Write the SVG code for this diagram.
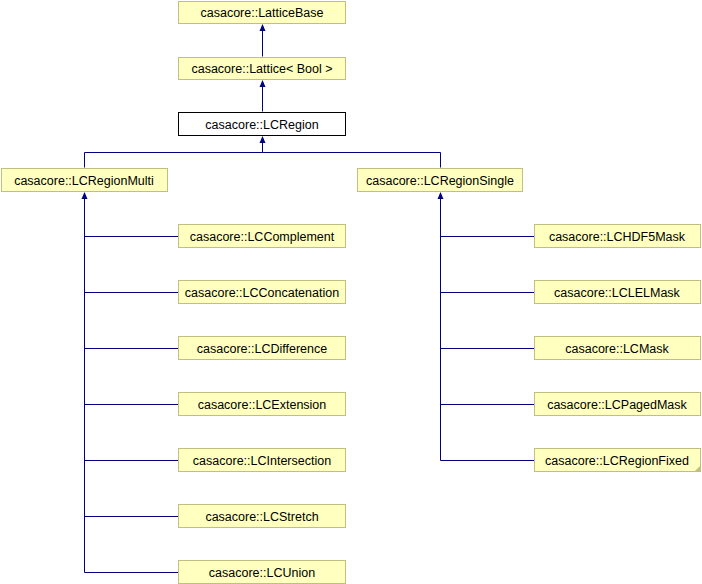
<svg xmlns="http://www.w3.org/2000/svg" width="702" height="584" viewBox="0 0 702 584">
<style>
.n rect{fill:#ffffc0;stroke:#bfbf80;stroke-width:1}
.w rect{fill:#ffffff;stroke:#000000}
text{font-family:"Liberation Sans",Arial,sans-serif;font-size:12.5px;fill:#000;text-anchor:middle}
.c path{fill:none;stroke:#000080;stroke-width:1}
.c polygon{fill:#000080;stroke:none}
</style>
<rect width="702" height="584" fill="#fff"/>
<g class="c" id="connectors">
<path d="M262.5,31V56.5"/><polygon points="262.5,24 259.5,31 265.5,31"/>
<path d="M262.5,87V111.5"/><polygon points="262.5,80 259.5,87 265.5,87"/>
<path d="M262.5,143V152.5H84.5V167.5M262.5,152.5H440.5V167.5"/><polygon points="262.5,136 259.5,143 265.5,143"/>
<path d="M84.5,199V572.5H178M84.5,236.5H178M84.5,292.5H178M84.5,348.5H178M84.5,404.5H178M84.5,460.5H178M84.5,516.5H178"/><polygon points="84.5,192 81.5,199 87.5,199"/>
<path d="M440.5,199V460.5H534M440.5,236.5H534M440.5,292.5H534M440.5,348.5H534M440.5,404.5H534"/><polygon points="440.5,192 437.5,199 443.5,199"/>
</g>
<g class="n" id="LatticeBase"><rect x="178.5" y="1.5" width="167" height="22"/><text x="262" y="17">casacore::LatticeBase</text></g>
<g class="n" id="Lattice"><rect x="178.5" y="57.5" width="167" height="22"/><text x="262" y="73">casacore::Lattice&lt; Bool &gt;</text></g>
<g class="w" id="LCRegion"><rect x="178.5" y="112.5" width="167" height="23"/><text x="262" y="129">casacore::LCRegion</text></g>
<g class="n" id="LCRegionMulti"><rect x="1.5" y="168.5" width="166" height="23"/><text x="84" y="185">casacore::LCRegionMulti</text></g>
<g class="n" id="LCRegionSingle"><rect x="357.5" y="168.5" width="165" height="23"/><text x="440" y="185">casacore::LCRegionSingle</text></g>
<g class="n" id="LCComplement"><rect x="178.5" y="224.5" width="167" height="23"/><text x="262" y="241">casacore::LCComplement</text></g>
<g class="n" id="LCConcatenation"><rect x="178.5" y="280.5" width="167" height="23"/><text x="262" y="297">casacore::LCConcatenation</text></g>
<g class="n" id="LCDifference"><rect x="178.5" y="336.5" width="167" height="23"/><text x="262" y="353">casacore::LCDifference</text></g>
<g class="n" id="LCExtension"><rect x="178.5" y="392.5" width="167" height="23"/><text x="262" y="409">casacore::LCExtension</text></g>
<g class="n" id="LCIntersection"><rect x="178.5" y="448.5" width="167" height="23"/><text x="262" y="465">casacore::LCIntersection</text></g>
<g class="n" id="LCStretch"><rect x="178.5" y="504.5" width="167" height="23"/><text x="262" y="521">casacore::LCStretch</text></g>
<g class="n" id="LCUnion"><rect x="178.5" y="560.5" width="167" height="23"/><text x="262" y="577">casacore::LCUnion</text></g>
<g class="n" id="LCHDF5Mask"><rect x="534.5" y="224.5" width="166" height="23"/><text x="617" y="241">casacore::LCHDF5Mask</text></g>
<g class="n" id="LCLELMask"><rect x="534.5" y="280.5" width="166" height="23"/><text x="617" y="297">casacore::LCLELMask</text></g>
<g class="n" id="LCMask"><rect x="534.5" y="336.5" width="166" height="23"/><text x="617" y="353">casacore::LCMask</text></g>
<g class="n" id="LCPagedMask"><rect x="534.5" y="392.5" width="166" height="23"/><text x="617" y="409">casacore::LCPagedMask</text></g>
<g class="n" id="LCRegionFixed"><rect x="534.5" y="448.5" width="166" height="23"/><text x="617" y="465">casacore::LCRegionFixed</text><polygon points="700,466 700,471 695,471" fill="#bfbf80"/></g>
</svg>
